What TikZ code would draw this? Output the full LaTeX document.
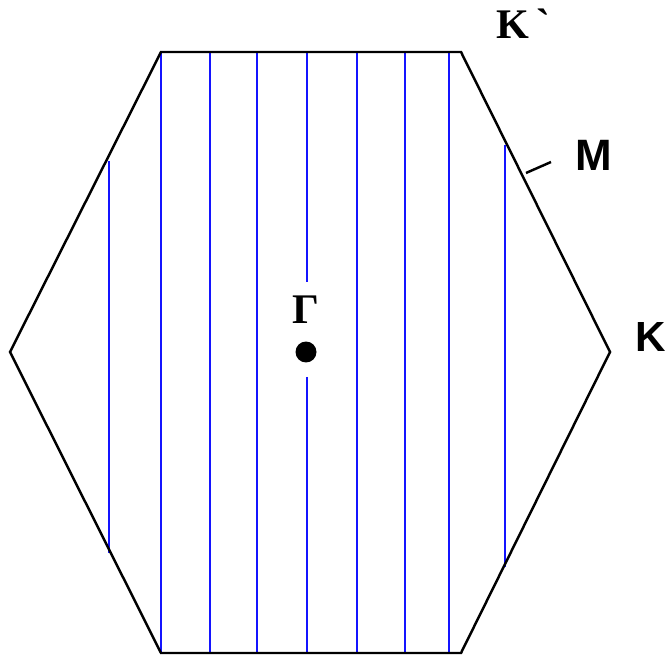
\documentclass[tikz,border=0pt]{standalone}
\usepackage{fontspec}
\setmainfont{Liberation Serif}
\setsansfont{Liberation Sans}
\usetikzlibrary{positioning}
\definecolor{lineblue}{RGB}{20,20,255}

\begin{document}
\begin{tikzpicture}[
        x=0.02cm, y=-0.02cm,
        edge/.style={line width=1.4pt, black, line join=miter},
        cut/.style={line width=1.4pt, lineblue},
        sidelabel/.style={font=\sffamily\bfseries\fontsize{24}{24}\selectfont, inner sep=0pt},
        serlabel/.style={font=\bfseries\fontsize{24}{24}\selectfont, inner sep=0pt}
    ]
        \useasboundingbox (0,0) rectangle (666,658);

        % hexagon corners
        \coordinate (kl) at (10,352);
        \coordinate (tl) at (161,52);
        \coordinate (tr) at (461,52);
        \coordinate (kr) at (610,352);
        \coordinate (br) at (461,653);
        \coordinate (bl) at (161,653);

        % constant-kx cuts
        \draw[cut] (109,161) -- (109,553);
        \draw[cut] (161,52) -- (161,653);
        \draw[cut] (210,52) -- (210,653);
        \draw[cut] (257,52) -- (257,653);
        \draw[cut] (307,52) -- (307,282);
        \draw[cut] (307,377) -- (307,653);
        \draw[cut] (357,52) -- (357,653);
        \draw[cut] (405,52) -- (405,653);
        \draw[cut] (449,52) -- (449,653);
        \draw[cut] (505,145) -- (505,567);

        \draw[edge] (kl) -- (tl) -- (tr) -- (kr) -- (br) -- (bl) -- cycle;

        % zone centre
        \node[circle, fill=black, inner sep=0pt, minimum size=0.42cm] (gdot) at (306,352) {};
        \node[serlabel, above=0.34cm of gdot] (gamma) {Γ};

        % high-symmetry labels
        \node[serlabel] (kp) at (513,25) {K};
        \node[serlabel, anchor=north] (kpmark) at (544,9) {\`{}};
        \node[sidelabel, font=\sffamily\bfseries\fontsize{25}{25}\selectfont] (m) at (594,155) {M};
        \node[sidelabel] (k) at (651,337) {K};

        \coordinate (medge) at (526,173);
        \coordinate (mtick) at (551,162);
        \draw[line width=1.4pt] (medge) -- (mtick);
    \end{tikzpicture}
\end{document}
